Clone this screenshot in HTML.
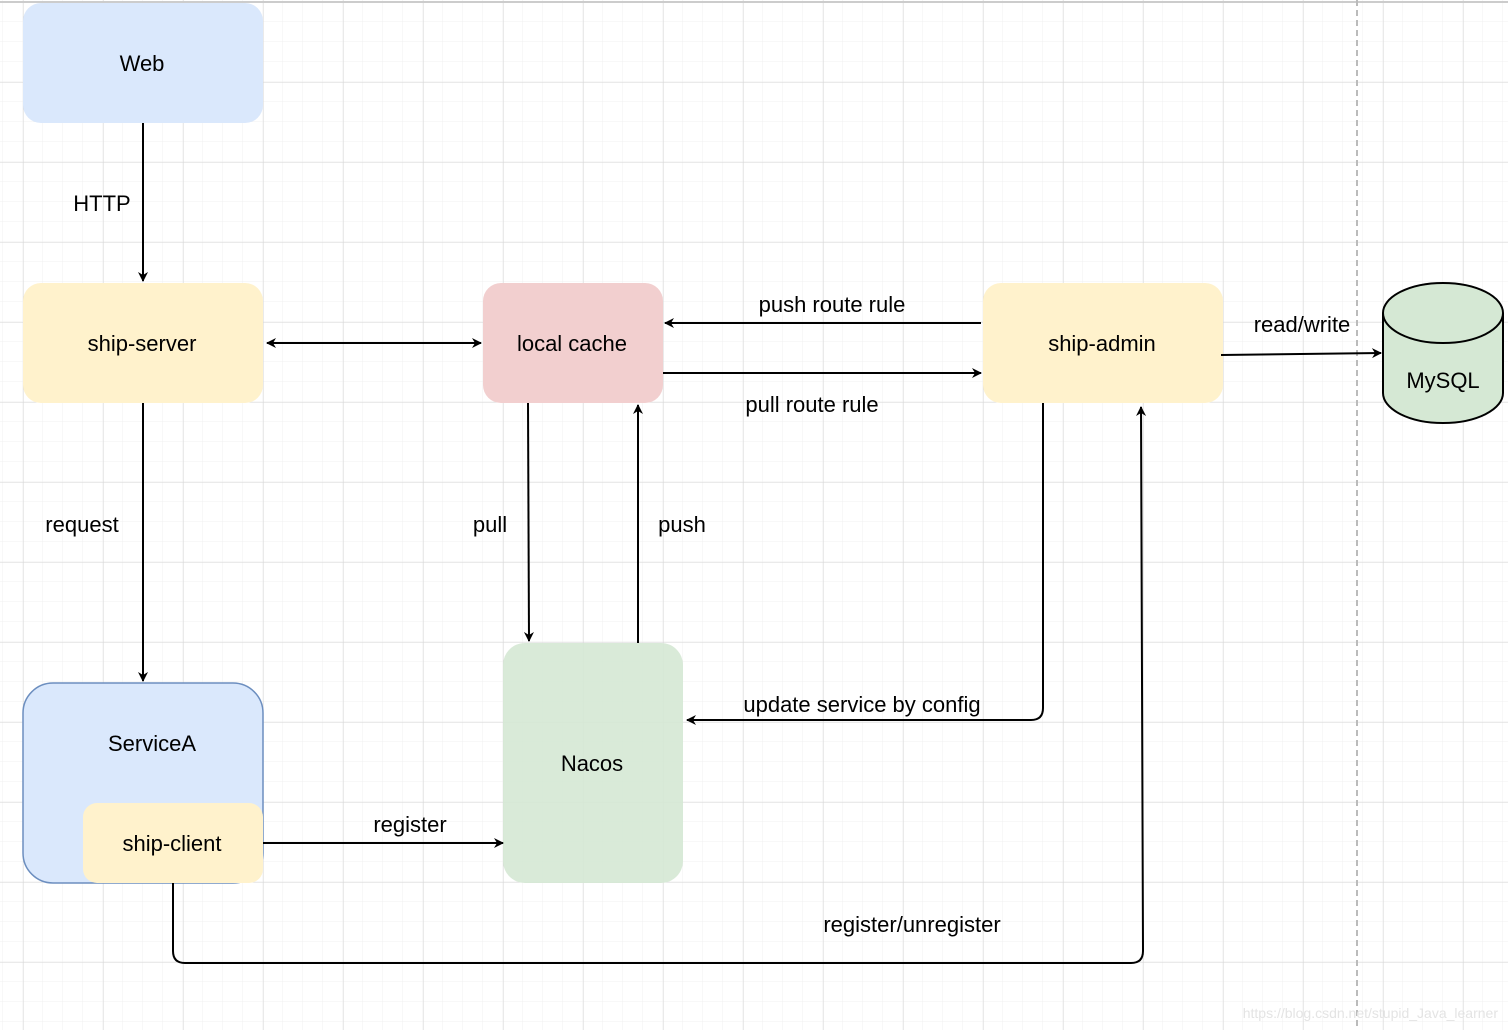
<!DOCTYPE html>
<html><head><meta charset="utf-8"><style>
html,body{margin:0;padding:0;background:#fff}
svg{display:block}
text{font-family:"Liberation Sans",Arial,sans-serif;font-size:22px;fill:#000}
</style></head><body>
<svg width="1508" height="1030" viewBox="0 0 1508 1030" xmlns="http://www.w3.org/2000/svg">
<defs>
<pattern id="minor" x="3" y="2" width="20" height="20" patternUnits="userSpaceOnUse"><path d="M20 0V20M0 20H20" stroke="#f0f0f0" stroke-width="1" fill="none"/></pattern>
<pattern id="major" x="23" y="2" width="80" height="80" patternUnits="userSpaceOnUse"><path d="M0 0V80M0 0H80" stroke="#d6d6d6" stroke-width="1" fill="none"/></pattern>
<marker id="ar" viewBox="0 0 10 10" refX="9" refY="5" markerWidth="10" markerHeight="10" markerUnits="userSpaceOnUse" orient="auto-start-reverse"><path d="M0 0L10 5L0 10L3 5Z" fill="#000"/></marker>
</defs>
<rect width="1508" height="1030" fill="url(#minor)"/>
<rect width="1508" height="1030" fill="url(#major)"/>
<line x1="0" y1="2" x2="1508" y2="2" stroke="#ccc" stroke-width="2"/>
<line x1="1357" y1="0" x2="1357" y2="1030" stroke="#bbb" stroke-width="2" stroke-dasharray="6,4"/>

<rect x="23" y="3" width="240" height="120" rx="18" fill="#dae8fc"/>
<text x="142" y="71" text-anchor="middle">Web</text>
<rect x="23" y="283" width="240" height="120" rx="18" fill="#fff2cc"/>
<text x="142" y="351" text-anchor="middle">ship-server</text>
<rect x="483" y="283" width="180" height="120" rx="18" fill="#f2cfcf"/>
<text x="572" y="351" text-anchor="middle">local cache</text>
<rect x="983" y="283" width="240" height="120" rx="18" fill="#fff2cc"/>
<text x="1102" y="351" text-anchor="middle">ship-admin</text>
<rect x="23" y="683" width="240" height="200" rx="30" fill="#dae8fc" stroke="#6c8ebf" stroke-width="1.5"/>
<text x="152" y="751" text-anchor="middle">ServiceA</text>
<rect x="83" y="803" width="180" height="80" rx="14" fill="#fff2cc"/>
<text x="172" y="851" text-anchor="middle">ship-client</text>
<rect x="503" y="643" width="180" height="240" rx="22" fill="#d5e8d4" opacity="0.9"/>
<text x="592" y="771" text-anchor="middle">Nacos</text>
<path d="M1383 313 A60 30 0 0 1 1503 313 V393 A60 30 0 0 1 1383 393 Z" fill="#d5e8d4" stroke="#000" stroke-width="2"/>
<path d="M1383 313 A60 30 0 0 0 1503 313" fill="none" stroke="#000" stroke-width="2"/>
<text x="1443" y="388" text-anchor="middle">MySQL</text>

<g stroke="#000" stroke-width="2" fill="none">
<line x1="143" y1="123" x2="143" y2="281" marker-end="url(#ar)"/>
<line x1="267" y1="343" x2="481" y2="343" marker-start="url(#ar)" marker-end="url(#ar)"/>
<line x1="981" y1="323" x2="665" y2="323" marker-end="url(#ar)"/>
<line x1="663" y1="373" x2="981" y2="373" marker-end="url(#ar)"/>
<line x1="1221" y1="355" x2="1381" y2="353" marker-end="url(#ar)"/>
<line x1="143" y1="403" x2="143" y2="681" marker-end="url(#ar)"/>
<line x1="528" y1="403" x2="529" y2="641" marker-end="url(#ar)"/>
<line x1="638" y1="643" x2="638" y2="405" marker-end="url(#ar)"/>
<path d="M1043 403 V708 Q1043 720 1031 720 H687" marker-end="url(#ar)"/>
<line x1="263" y1="843" x2="503" y2="843" marker-end="url(#ar)"/>
<path d="M173 883 V951 Q173 963 185 963 H1131 Q1143 963 1143 951 L1141 407" marker-end="url(#ar)"/>
</g>

<text x="102" y="211" text-anchor="middle">HTTP</text>
<text x="832" y="312" text-anchor="middle">push route rule</text>
<text x="812" y="412" text-anchor="middle">pull route rule</text>
<text x="1302" y="332" text-anchor="middle">read/write</text>
<text x="82" y="532" text-anchor="middle">request</text>
<text x="490" y="532" text-anchor="middle">pull</text>
<text x="682" y="532" text-anchor="middle">push</text>
<text x="862" y="712" text-anchor="middle">update service by config</text>
<text x="410" y="832" text-anchor="middle">register</text>
<text x="912" y="932" text-anchor="middle">register/unregister</text>
<text x="1498" y="1018" text-anchor="end" style="font-size:14px;fill:#e4e4e4">https://blog.csdn.net/stupid_Java_learner</text>
</svg>
</body></html>
